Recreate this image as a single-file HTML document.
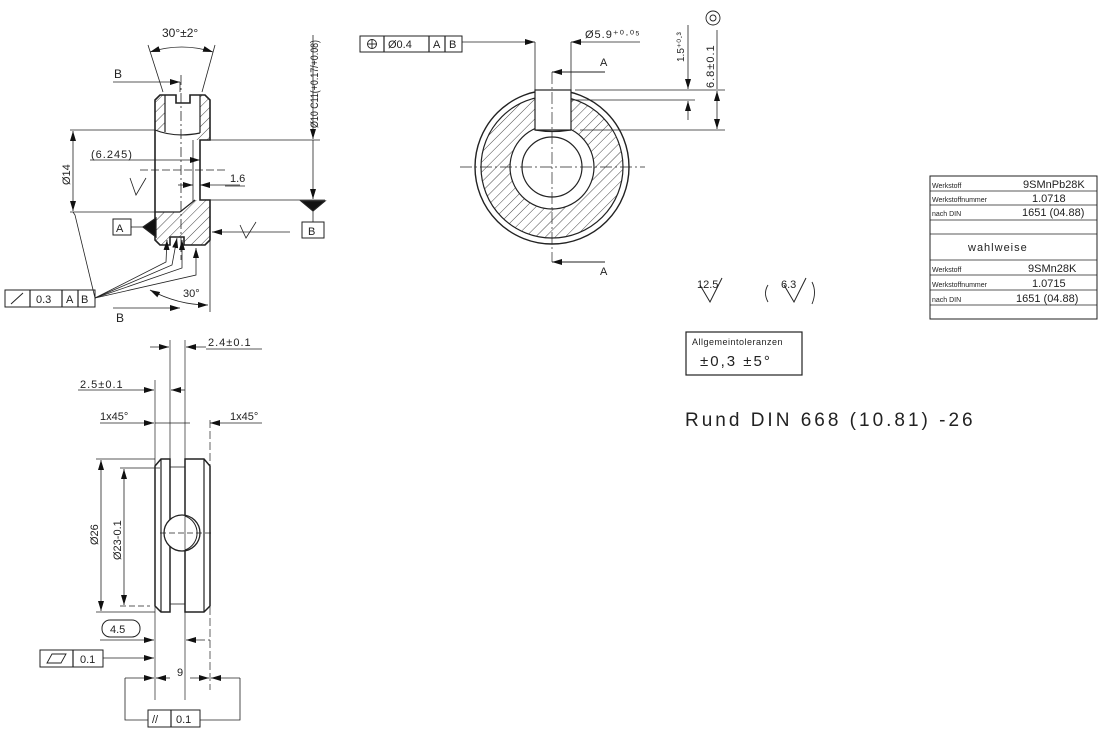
<!DOCTYPE html>
<html><head><meta charset="utf-8"><style>
html,body{margin:0;padding:0;background:#fff}
svg{display:block}
text{font-family:"Liberation Sans",sans-serif;fill:#222}
</style></head><body>
<svg width="1105" height="736" viewBox="0 0 1105 736" xmlns="http://www.w3.org/2000/svg">
<defs>
<pattern id="h" width="7" height="7" patternUnits="userSpaceOnUse" patternTransform="rotate(45)">
<line x1="0" y1="0" x2="0" y2="7" stroke="#333" stroke-width="0.9"/>
</pattern>
<marker id="a" viewBox="0 0 10 6" refX="10" refY="3" markerWidth="10" markerHeight="6" orient="auto-start-reverse" markerUnits="userSpaceOnUse"><path d="M0,0 L10,3 L0,6z" fill="#111"/></marker>
</defs>
<g stroke="#222" stroke-width="1.2" fill="none">
<!-- ===== VIEW 1 ===== -->
<path d="M155,100 L160,95 L165,95 L165,132 L155,130 Z" fill="url(#h)" stroke="none"/>
<path d="M200,95 L205,95 L210,100 L210,140 L196,140 L200,132 Z" fill="url(#h)" stroke="none"/>
<path d="M155,212 L180,212 L195,200 L210,200 L210,240 L205,245 L184,245 L184,237 L170,237 L170,245 L160,245 L155,240 Z" fill="url(#h)" stroke="none"/>
<path d="M155,100 L160,95 L176,95 L176,103 L190,103 L190,95 L205,95 L210,100 L210,140 L200,140 L200,200 L210,200 L210,240 L205,245 L184,245 L184,237 L170,237 L170,245 L160,245 L155,240 Z" stroke-width="1.6"/>
<line x1="165" y1="95" x2="165" y2="132"/>
<line x1="200" y1="95" x2="200" y2="133"/>
<path d="M155,130 Q175,138 200,133"/>
<line x1="155" y1="212" x2="180" y2="212"/>
<line x1="180" y1="212" x2="195" y2="200"/>
<line x1="193" y1="140" x2="193" y2="202" stroke-width="0.8"/>
<line x1="181" y1="75" x2="181" y2="260" stroke-dasharray="10,3,2,3" stroke-width="0.8"/>
<line x1="163" y1="92" x2="148" y2="45" stroke-width="0.8"/>
<line x1="202" y1="92" x2="215" y2="45" stroke-width="0.8"/>
<path d="M150,52 Q182,42 213,52" stroke-width="0.8" marker-start="url(#a)" marker-end="url(#a)"/>
<line x1="113" y1="82" x2="180" y2="82" marker-end="url(#a)" stroke-width="0.8"/>
<line x1="180" y1="82" x2="180" y2="92" stroke-width="0.8"/>
<line x1="113" y1="308" x2="180" y2="308" marker-end="url(#a)" stroke-width="0.8"/>
<line x1="70" y1="130" x2="155" y2="130" stroke-width="0.8"/>
<line x1="70" y1="212" x2="155" y2="212" stroke-width="0.8"/>
<line x1="73" y1="131" x2="73" y2="211" stroke-width="0.8" marker-start="url(#a)" marker-end="url(#a)"/>
<line x1="90" y1="160" x2="200" y2="160" stroke-width="0.8" marker-end="url(#a)"/>
<line x1="140" y1="170" x2="225" y2="170" stroke-width="0.7" stroke-dasharray="8,3"/>
<line x1="178" y1="185" x2="193" y2="185" stroke-width="0.8" marker-end="url(#a)"/>
<line x1="240" y1="185" x2="200" y2="185" stroke-width="0.8" marker-end="url(#a)"/>
<line x1="225" y1="186" x2="245" y2="186" stroke-width="0.7"/>
<line x1="203" y1="140" x2="320" y2="140" stroke-width="0.8"/>
<line x1="210" y1="200" x2="325" y2="200" stroke-width="0.8"/>
<line x1="313" y1="35" x2="313" y2="139" stroke-width="0.8" marker-end="url(#a)"/>
<line x1="313" y1="170" x2="313" y2="199" stroke-width="0.8" marker-end="url(#a)"/>
<line x1="313" y1="140" x2="313" y2="170" stroke-width="0.8"/>
<path d="M301,201 L325,201 L313,211Z" fill="#111"/>
<line x1="313" y1="211" x2="313" y2="222" stroke-width="0.8"/>
<rect x="302" y="222" width="22" height="16" stroke-width="1"/>
<line x1="290" y1="232" x2="212" y2="232" stroke-width="0.8" marker-end="url(#a)"/>
<rect x="113" y="219" width="18" height="16" stroke-width="1"/>
<line x1="131" y1="227" x2="143" y2="227" stroke-width="0.8"/>
<path d="M143,227 L156,218 L156,237Z" fill="#111"/>
<rect x="5" y="290" width="90" height="17" stroke-width="1"/>
<line x1="30" y1="290" x2="30" y2="307"/><line x1="62" y1="290" x2="62" y2="307"/><line x1="78" y1="290" x2="78" y2="307"/>
<line x1="11" y1="304" x2="23" y2="293" stroke-width="1"/>
<path d="M95,298 L75,215 L73,212" stroke-width="0.8"/>
<path d="M95,298 L166,262 L167,240" stroke-width="0.8" marker-end="url(#a)"/>
<path d="M95,298 L172,265 L177,238" stroke-width="0.8" marker-end="url(#a)"/>
<path d="M95,298 L182,268 L182,240" stroke-width="0.8" marker-end="url(#a)"/>
<path d="M95,298 L196,275 L196,248" stroke-width="0.8" marker-end="url(#a)"/>
<line x1="210" y1="240" x2="210" y2="312" stroke-width="0.8"/>
<path d="M150,290 Q178,305 208,305" stroke-width="0.8" marker-start="url(#a)" marker-end="url(#a)"/>
<path d="M130,178 L136,195 L146,178" stroke-width="0.8"/>
<path d="M240,225 L246,238 L256,222" stroke-width="0.8"/>

<!-- ===== VIEW 2 ===== -->
<circle cx="552" cy="167" r="77" stroke-width="1.4"/>
<path fill-rule="evenodd" d="M623,167 A71,71 0 1 1 481,167 A71,71 0 1 1 623,167 Z M594,167 A42,42 0 1 0 510,167 A42,42 0 1 0 594,167 Z" fill="url(#h)" stroke="none"/>
<rect x="535" y="88" width="36" height="43" fill="#fff" stroke="none"/>
<circle cx="552" cy="167" r="71" stroke-width="1.2"/>
<circle cx="552" cy="167" r="42" stroke-width="1.2"/>
<circle cx="552" cy="167" r="30" stroke-width="1.2"/>
<rect x="535" y="90" width="36" height="40" fill="#fff" stroke-width="1.2"/>
<path d="M535,130 Q552,133 571,130" stroke-width="1.2"/>
<line x1="460" y1="167" x2="645" y2="167" stroke-dasharray="12,3,2,3" stroke-width="0.8"/>
<line x1="552" y1="72" x2="552" y2="262" stroke-dasharray="12,3,2,3" stroke-width="0.7"/>
<line x1="605" y1="72" x2="552" y2="72" marker-end="url(#a)" stroke-width="1"/>
<line x1="605" y1="262" x2="552" y2="262" marker-end="url(#a)" stroke-width="1"/>
<line x1="535" y1="42" x2="535" y2="92" stroke-width="0.8"/>
<line x1="571" y1="42" x2="571" y2="92" stroke-width="0.8"/>
<line x1="462" y1="42" x2="535" y2="42" stroke-width="0.8" marker-end="url(#a)"/>
<line x1="582" y1="42" x2="571" y2="42" stroke-width="0.8" marker-end="url(#a)"/>
<line x1="582" y1="42" x2="640" y2="42" stroke-width="0.8"/>
<rect x="360" y="36" width="102" height="16" stroke-width="1"/>
<line x1="384" y1="36" x2="384" y2="52"/><line x1="429" y1="36" x2="429" y2="52"/><line x1="445" y1="36" x2="445" y2="52"/>
<circle cx="372" cy="44" r="4.5" stroke-width="0.9"/><line x1="367" y1="44" x2="377" y2="44" stroke-width="0.9"/><line x1="372" y1="39" x2="372" y2="49" stroke-width="0.9"/>
<line x1="575" y1="90" x2="725" y2="90" stroke-width="0.8"/>
<line x1="571" y1="100" x2="695" y2="100" stroke-width="0.8"/>
<line x1="580" y1="130" x2="725" y2="130" stroke-width="0.8"/>
<line x1="688" y1="25" x2="688" y2="89" stroke-width="0.8" marker-end="url(#a)"/>
<line x1="688" y1="120" x2="688" y2="101" stroke-width="0.8" marker-end="url(#a)"/>
<line x1="717" y1="30" x2="717" y2="89" stroke-width="0.8"/>
<line x1="717" y1="91" x2="717" y2="129" stroke-width="0.8" marker-start="url(#a)" marker-end="url(#a)"/>
<circle cx="713" cy="18" r="7" stroke-width="0.9"/><circle cx="713" cy="18" r="3" stroke-width="0.9"/>

<!-- ===== VIEW 3 ===== -->
<path d="M155,466 L161,459 L170,459 L170,612 L161,612 L155,606 Z" stroke-width="1.5"/>
<path d="M185,459 L204,459 L210,466 L210,606 L204,612 L185,612 Z" stroke-width="1.5"/>
<line x1="161" y1="459" x2="161" y2="612"/><line x1="204" y1="459" x2="204" y2="612"/>
<line x1="170" y1="467" x2="185" y2="467" stroke-width="0.8"/>
<line x1="170" y1="604" x2="185" y2="604" stroke-width="0.8"/>
<circle cx="182" cy="533" r="18" fill="#fff" stroke-width="1.3"/>
<path d="M185,516 A18,18 0 0 1 185,550" stroke-width="1"/>
<line x1="160" y1="533" x2="212" y2="533" stroke-dasharray="6,3" stroke-width="0.7"/>
<line x1="170" y1="340" x2="170" y2="467" stroke-width="0.7"/>
<line x1="185" y1="340" x2="185" y2="700" stroke-width="0.7"/>
<line x1="155" y1="380" x2="155" y2="700" stroke-width="0.7"/>
<line x1="210" y1="420" x2="210" y2="690" stroke-width="0.7" stroke-dasharray="8,3"/>
<line x1="150" y1="347" x2="169" y2="347" stroke-width="0.8" marker-end="url(#a)"/>
<line x1="206" y1="347" x2="186" y2="347" stroke-width="0.8" marker-end="url(#a)"/>
<line x1="206" y1="349" x2="262" y2="349" stroke-width="0.7"/>
<line x1="78" y1="390" x2="154" y2="390" stroke-width="0.8" marker-end="url(#a)"/>
<line x1="185" y1="390" x2="171" y2="390" stroke-width="0.8" marker-end="url(#a)"/>
<line x1="100" y1="423" x2="154" y2="423" stroke-width="0.8" marker-end="url(#a)"/>
<line x1="155" y1="423" x2="190" y2="423" stroke-width="0.8"/>
<line x1="262" y1="423" x2="210" y2="423" stroke-width="0.8" marker-end="url(#a)"/>
<line x1="96" y1="459" x2="155" y2="459" stroke-width="0.7"/>
<line x1="96" y1="612" x2="155" y2="612" stroke-width="0.7"/>
<line x1="120" y1="468" x2="160" y2="468" stroke-width="0.7"/>
<line x1="120" y1="606" x2="150" y2="606" stroke-width="0.7" stroke-dasharray="6,3"/>
<line x1="101" y1="460" x2="101" y2="611" stroke-width="0.8" marker-start="url(#a)" marker-end="url(#a)"/>
<line x1="124" y1="469" x2="124" y2="605" stroke-width="0.8" marker-start="url(#a)" marker-end="url(#a)"/>
<rect x="102" y="620" width="38" height="17" rx="8" stroke-width="1"/>
<line x1="100" y1="640" x2="154" y2="640" stroke-width="0.7" marker-end="url(#a)"/>
<line x1="200" y1="640" x2="186" y2="640" stroke-width="0.7" marker-end="url(#a)"/>
<line x1="200" y1="640" x2="210" y2="640" stroke-width="0.7" stroke-dasharray="5,3"/>
<rect x="40" y="650" width="63" height="17" stroke-width="1"/><line x1="73" y1="650" x2="73" y2="667"/>
<path d="M47,663 L52,654 L66,654 L61,663Z" stroke-width="0.9"/>
<line x1="103" y1="658" x2="154" y2="658" stroke-width="0.8" marker-end="url(#a)"/>
<line x1="125" y1="678" x2="154" y2="678" stroke-width="0.8" marker-end="url(#a)"/>
<line x1="170" y1="678" x2="156" y2="678" stroke-width="0.8" marker-end="url(#a)"/>
<line x1="190" y1="678" x2="209" y2="678" stroke-width="0.8" marker-end="url(#a)"/>
<line x1="240" y1="678" x2="211" y2="678" stroke-width="0.8" marker-end="url(#a)"/>
<path d="M125,678 L125,720 L148,720" stroke-width="0.8"/>
<path d="M240,678 L240,720 L200,720" stroke-width="0.8"/>
<rect x="148" y="710" width="52" height="17" stroke-width="1"/><line x1="171" y1="710" x2="171" y2="727"/>

<!-- ===== RIGHT ===== -->
<path d="M700,285 L710,302 L722,278" stroke-width="1"/>
<path d="M784,285 L794,302 L806,278" stroke-width="1"/>
<path d="M768,285 Q763,293 768,302" stroke-width="0.9"/>
<path d="M812,282 Q817,292 812,304" stroke-width="0.9"/>
<rect x="686" y="332" width="116" height="43" stroke-width="1.2"/>
<rect x="930" y="176" width="167" height="143" stroke-width="1"/>
<line x1="930" y1="191" x2="1097" y2="191" stroke-width="0.8"/>
<line x1="930" y1="205" x2="1097" y2="205" stroke-width="0.8"/>
<line x1="930" y1="220" x2="1097" y2="220" stroke-width="0.8"/>
<line x1="930" y1="234" x2="1097" y2="234" stroke-width="0.8"/>
<line x1="930" y1="260" x2="1097" y2="260" stroke-width="0.8"/>
<line x1="930" y1="275" x2="1097" y2="275" stroke-width="0.8"/>
<line x1="930" y1="290" x2="1097" y2="290" stroke-width="0.8"/>
<line x1="930" y1="305" x2="1097" y2="305" stroke-width="0.8"/>
</g>
<g font-size="11">
<text x="162" y="37" font-size="12">30°±2°</text>
<text x="114" y="78" font-size="12">B</text>
<text x="116" y="322" font-size="12">B</text>
<text x="91" y="158" font-size="11" letter-spacing="1">(6.245)</text>
<text x="230" y="182">1.6</text>
<text x="183" y="297">30°</text>
<text x="116" y="232">A</text>
<text x="308" y="235">B</text>
<text x="0" y="0" transform="translate(70,185) rotate(-90)">Ø14</text>
<text x="0" y="0" transform="translate(318,128) rotate(-90)" textLength="88" lengthAdjust="spacingAndGlyphs">Ø10 C11(+0.17/+0.08)</text>
<text x="36" y="303">0.3</text><text x="66" y="303">A</text><text x="81" y="303">B</text>
<text x="388" y="48">Ø0.4</text><text x="433" y="48">A</text><text x="449" y="48">B</text>
<text x="585" y="38" letter-spacing="1">Ø5.9⁺⁰·⁰⁵</text>
<text x="600" y="66">A</text><text x="600" y="275">A</text>
<text x="0" y="0" transform="translate(684,62) rotate(-90)" font-size="10">1.5⁺⁰·³</text>
<text x="0" y="0" transform="translate(714,88) rotate(-90)" letter-spacing="1">6.8±0.1</text>
<text x="208" y="346" letter-spacing="1">2.4±0.1</text>
<text x="80" y="388" letter-spacing="1">2.5±0.1</text>
<text x="100" y="420">1x45°</text>
<text x="230" y="420">1x45°</text>
<text x="0" y="0" transform="translate(98,545) rotate(-90)">Ø26</text>
<text x="0" y="0" transform="translate(121,560) rotate(-90)">Ø23-0.1</text>
<text x="110" y="633">4.5</text>
<text x="80" y="663">0.1</text>
<text x="177" y="676">9</text>
<text x="152" y="723">//</text><text x="176" y="723">0.1</text>
<text x="697" y="288" font-size="11">12.5</text>
<text x="781" y="288" font-size="11">6.3</text>
<text x="692" y="345" font-size="9" letter-spacing="0.5">Allgemeintoleranzen</text>
<text x="700" y="366" font-size="15" letter-spacing="2">±0,3 ±5°</text>
<text x="685" y="426" font-size="19" letter-spacing="3" fill="#444">Rund DIN 668 (10.81) -26</text>
<g font-size="7"><text x="932" y="188">Werkstoff</text><text x="932" y="202">Werkstoffnummer</text><text x="932" y="216">nach DIN</text>
<text x="932" y="272">Werkstoff</text><text x="932" y="287">Werkstoffnummer</text><text x="932" y="302">nach DIN</text></g>
<g font-size="11"><text x="1023" y="188">9SMnPb28K</text><text x="1032" y="202">1.0718</text><text x="1022" y="216">1651 (04.88)</text>
<text x="968" y="251" letter-spacing="1">wahlweise</text>
<text x="1028" y="272">9SMn28K</text><text x="1032" y="287">1.0715</text><text x="1016" y="302">1651 (04.88)</text></g>
</g>
</svg>
</body></html>
